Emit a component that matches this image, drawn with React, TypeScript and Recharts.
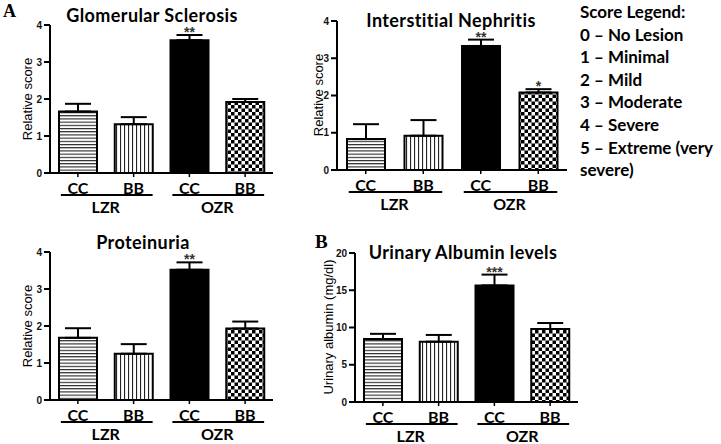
import React from 'react';
import { BarChart, Bar, XAxis, YAxis, ErrorBar, Cell, LabelList } from 'recharts';

const categories = ['CC', 'BB', 'CC', 'BB'];
const groups = ['LZR', 'LZR', 'OZR', 'OZR'];
const fills = ['url(#pat-h)', 'url(#pat-v)', '#000', 'url(#pat-c)'];

const glomerularMean = [1.66, 1.32, 3.59, 1.92];
const glomerularErr = [0.21, 0.19, 0.14, 0.08];
const glomerularStars = ['', '', '**', ''];

const nephritisMean = [0.83, 0.92, 3.33, 2.08];
const nephritisErr = [0.4, 0.42, 0.17, 0.09];
const nephritisStars = ['', '', '**', '*'];

const proteinuriaMean = [1.68, 1.25, 3.52, 1.93];
const proteinuriaErr = [0.26, 0.26, 0.2, 0.19];
const proteinuriaStars = ['', '', '**', ''];

const albuminMean = [8.45, 8.1, 15.65, 9.8];
const albuminErr = [0.7, 0.9, 1.45, 0.8];
const albuminStars = ['', '', '***', ''];

const scoreTicks = [0, 1, 2, 3, 4];
const albuminTicks = [0, 5, 10, 15, 20];

const scoreLegend = [
  'Score Legend:',
  '0 – No Lesion',
  '1 – Minimal',
  '2 – Mild',
  '3 – Moderate',
  '4 – Severe',
  '5 – Extreme (very',
  'severe)',
];

const TITLE_FONT = 'Lato, "Open Sans", sans-serif';
const AXIS_FONT = '"Liberation Sans", Arial, sans-serif';

function buildRows(mean: number[], err: number[], stars: string[]) {
  return categories.map((c, i) => ({
    key: `${groups[i]}-${c}`,
    mean: mean[i],
    err: [0, err[i]],
    errUp: err[i],
    stars: stars[i],
  }));
}

type PanelProps = {
  left: number;
  top: number;
  width: number;
  height: number;
  yWidth: number;
  margin: { top: number; right: number; bottom: number; left: number };
  rows: ReturnType<typeof buildRows>;
  domain: [number, number];
  ticks: number[];
};

const BAR = 38;

function Panel({ left, top, width, height, yWidth, margin, rows, domain, ticks }: PanelProps) {
  const band = (width - margin.left - margin.right - yWidth) / categories.length;

  const Tick = (props: any) => {
    const { x, y, index } = props;
    const i = index;
    const first = i === 0 || groups[i] !== groups[i - 1];
    let count = 1;
    while (i + count < groups.length && groups[i + count] === groups[i]) count++;
    return (
      <g>
        <text
          x={x}
          y={y + 8}
          textAnchor="middle"
          dominantBaseline="central"
          fontFamily={TITLE_FONT}
          fontWeight="bold"
          fontSize={16}
          fill="#000"
        >
          {categories[i]}
        </text>
        {first && (
          <g>
            <line
              x1={x - BAR / 2 + 2}
              x2={x + (count - 1) * band + BAR / 2}
              y1={y + 16}
              y2={y + 16}
              stroke="#000"
              strokeWidth={1.8}
            />
            <text
              x={x + ((count - 1) * band) / 2}
              y={y + 27.5}
              textAnchor="middle"
              dominantBaseline="central"
              fontFamily={TITLE_FONT}
              fontWeight="bold"
              fontSize={16}
              fill="#000"
            >
              {groups[i]}
            </text>
          </g>
        )}
      </g>
    );
  };

  const StarLabel = (props: any) => {
    const { x, y, width: w, height: h, index } = props;
    const row = rows[index];
    if (!row || !row.stars) return null;
    const pxPerUnit = h / row.mean;
    const errTop = y - row.errUp * pxPerUnit;
    return (
      <text
        x={x + w / 2}
        y={errTop + 2}
        textAnchor="middle"
        fontFamily={AXIS_FONT}
        fontSize={14}
        fontWeight="bold"
        fill="#333"
      >
        {row.stars}
      </text>
    );
  };

  return (
    <div style={{ position: 'absolute', left, top, width, height }}>
      <BarChart width={width} height={height} data={rows} margin={margin} barSize={BAR}>
        <XAxis
          dataKey="key"
          height={40}
          axisLine={{ stroke: '#000', strokeWidth: 2 }}
          tickLine={{ stroke: '#000', strokeWidth: 1.5 }}
          tickSize={4}
          tickMargin={2}
          interval={0}
          tick={<Tick />}
        />
        <YAxis
          width={yWidth}
          domain={domain}
          ticks={ticks}
          interval={0}
          axisLine={{ stroke: '#000', strokeWidth: 2 }}
          tickLine={{ stroke: '#000', strokeWidth: 2 }}
          tickSize={6}
          tick={{ fontSize: 10, fill: '#111', fontFamily: AXIS_FONT, fontWeight: 'bold' }}
        />
        <Bar dataKey="mean" stroke="#000" strokeWidth={2} isAnimationActive={false}>
          {rows.map((r, i) => (
            <Cell key={r.key} fill={fills[i]} />
          ))}
          <ErrorBar
            dataKey="err"
            direction="y"
            width={13}
            stroke="#000"
            strokeWidth={2}
            isAnimationActive={false}
          />
          <LabelList dataKey="stars" content={<StarLabel />} />
        </Bar>
      </BarChart>
    </div>
  );
}

export default function App() {
  const glomRows = buildRows(glomerularMean, glomerularErr, glomerularStars);
  const nephRows = buildRows(nephritisMean, nephritisErr, nephritisStars);
  const protRows = buildRows(proteinuriaMean, proteinuriaErr, proteinuriaStars);
  const albRows = buildRows(albuminMean, albuminErr, albuminStars);

  const titleProps = {
    textAnchor: 'middle' as const,
    fontFamily: TITLE_FONT,
    fontWeight: 'bold',
    fontSize: 18,
    letterSpacing: 0.4,
    fill: '#000',
  };

  return (
    <div style={{ position: 'absolute', left: 0, top: 0, width: 721, height: 444, background: '#fff', overflow: 'hidden' }}>
      <svg width={0} height={0} style={{ position: 'absolute' }}>
        <defs>
          <pattern id="pat-h" width={4} height={3.2} patternUnits="userSpaceOnUse">
            <rect width={4} height={3.2} fill="#fff" />
            <rect y={0} width={4} height={1.1} fill="#222" />
          </pattern>
          <pattern id="pat-v" width={4} height={4} patternUnits="userSpaceOnUse">
            <rect width={4} height={4} fill="#fff" />
            <rect x={0} width={1.1} height={4} fill="#222" />
          </pattern>
          <pattern id="pat-c" width={7} height={7} patternUnits="userSpaceOnUse">
            <rect width={7} height={7} fill="#fff" />
            <rect x={0} y={0} width={3.5} height={3.5} fill="#000" />
            <rect x={3.5} y={3.5} width={3.5} height={3.5} fill="#000" />
          </pattern>
        </defs>
      </svg>

      <Panel
        left={0}
        top={0}
        width={290}
        height={220}
        yWidth={50}
        margin={{ top: 25, right: 17, bottom: 7, left: 0 }}
        rows={glomRows}
        domain={[0, 4]}
        ticks={scoreTicks}
      />
      <Panel
        left={290}
        top={0}
        width={290}
        height={220}
        yWidth={47}
        margin={{ top: 21, right: 13, bottom: 10, left: 0 }}
        rows={nephRows}
        domain={[0, 4]}
        ticks={scoreTicks}
      />
      <Panel
        left={0}
        top={225}
        width={290}
        height={219}
        yWidth={50}
        margin={{ top: 27, right: 17, bottom: 4, left: 0 }}
        rows={protRows}
        domain={[0, 4]}
        ticks={scoreTicks}
      />
      <Panel
        left={290}
        top={225}
        width={300}
        height={219}
        yWidth={65}
        margin={{ top: 28, right: 12, bottom: 2, left: 0 }}
        rows={albRows}
        domain={[0, 20]}
        ticks={albuminTicks}
      />

      <svg width={721} height={444} style={{ position: 'absolute', left: 0, top: 0, pointerEvents: 'none' }}>
        <text x={3} y={17} fontFamily='"Liberation Serif", serif' fontWeight="bold" fontSize={18} fill="#000">A</text>
        <text x={315} y={248} fontFamily='"Liberation Serif", serif' fontWeight="bold" fontSize={19} fill="#000">B</text>

        <text x={152} y={22} {...titleProps}>Glomerular Sclerosis</text>
        <text x={451} y={27} {...titleProps}>Interstitial Nephritis</text>
        <text x={143} y={249} {...titleProps}>Proteinuria</text>
        <text x={463} y={259} {...titleProps}>Urinary Albumin levels</text>

        <text transform="translate(27,99) rotate(-90)" textAnchor="middle" dominantBaseline="central" fontFamily={AXIS_FONT} fontSize={13} fill="#000">Relative score</text>
        <text transform="translate(318,95) rotate(-90)" textAnchor="middle" dominantBaseline="central" fontFamily={AXIS_FONT} fontSize={13} fill="#000">Relative score</text>
        <text transform="translate(27,326) rotate(-90)" textAnchor="middle" dominantBaseline="central" fontFamily={AXIS_FONT} fontSize={13} fill="#000">Relative score</text>
        <text transform="translate(328,327) rotate(-90)" textAnchor="middle" dominantBaseline="central" fontFamily={AXIS_FONT} fontSize={13} fill="#000">Urinary albumin (mg/dl)</text>

        {scoreLegend.map((line, i) => (
          <text key={i} x={580} y={18 + i * 22.6} fontFamily={TITLE_FONT} fontWeight="bold" fontSize={17} fill="#000">
            {line}
          </text>
        ))}
      </svg>
    </div>
  );
}
